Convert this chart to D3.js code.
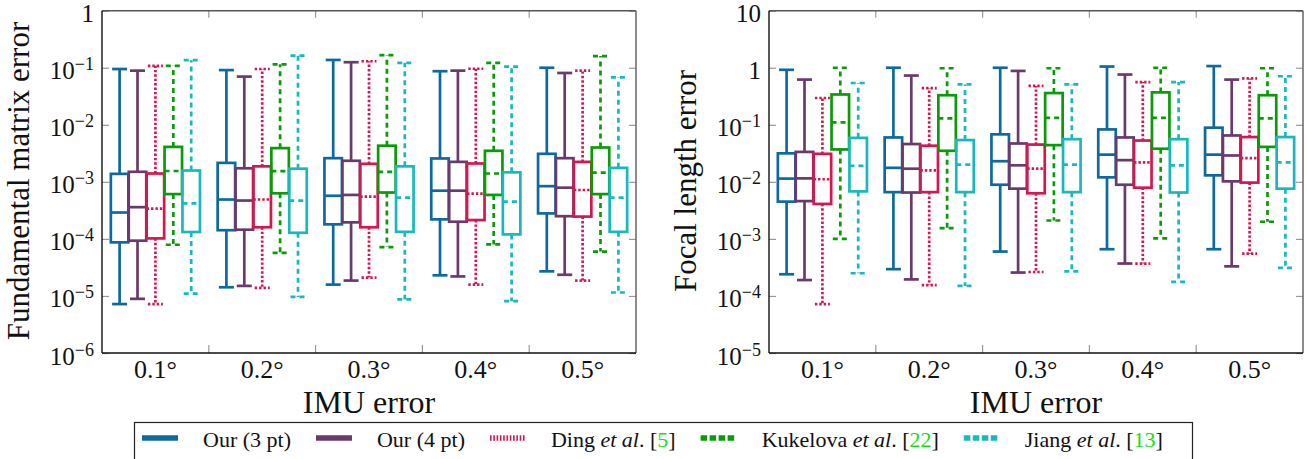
<!doctype html>
<html lang="en">
<head>
<meta charset="UTF-8">
<title>IMU error box plots</title>
<script src="https://d3js.org/d3.v7.min.js"></script>
<style>
  body { margin: 0; background: #fff; }
</style>
</head>
<body>
<svg width="1307" height="459" font-family="'Liberation Serif', Tinos, 'Times New Roman', 'DejaVu Serif', serif" fill="#111"></svg>
<script>

// IMU error levels on the x axis (degrees)
const imuErrors = ["0.1", "0.2", "0.3", "0.4", "0.5"];

// methods, in the order the boxes sit inside each group
const methods = ["our3", "our4", "ding", "kukelova", "jiang"];

// one row per IMU error: [lower whisker, q1, median, q3, upper whisker]
const fundOur3 = [[7.2e-6, 8.7e-5, 2.9e-4, 1.38e-3, 0.095], [1.42e-5, 1.42e-4, 4.9e-4, 2.15e-3, 0.091], [1.58e-5, 1.8e-4, 5.7e-4, 2.6e-3, 0.137], [2.3e-5, 2.2e-4, 7.0e-4, 2.57e-3, 0.087], [2.7e-5, 2.8e-4, 8.4e-4, 3.1e-3, 0.10]];
const fundOur4 = [[8.9e-6, 9.3e-5, 3.6e-4, 1.5e-3, 0.089], [1.5e-5, 1.45e-4, 4.7e-4, 1.73e-3, 0.07], [1.86e-5, 1.95e-4, 5.9e-4, 2.34e-3, 0.125], [2.2e-5, 2.0e-4, 7.0e-4, 2.24e-3, 0.089], [2.35e-5, 2.5e-4, 7.9e-4, 2.6e-3, 0.081]];
const fundDing = [[7.2e-6, 1.02e-4, 3.4e-4, 1.4e-3, 0.108], [1.38e-5, 1.6e-4, 4.9e-4, 1.87e-3, 0.095], [2.1e-5, 1.6e-4, 5.5e-4, 2.07e-3, 0.13], [1.58e-5, 2.14e-4, 6.2e-4, 2.1e-3, 0.096], [1.86e-5, 2.46e-4, 7.2e-4, 2.24e-3, 0.089]];
const fundKukelova = [[7.9e-5, 6.1e-4, 1.55e-3, 4.1e-3, 0.108], [5.7e-5, 6.3e-4, 1.54e-3, 3.9e-3, 0.115], [7.2e-5, 6.5e-4, 1.5e-3, 4.3e-3, 0.166], [8.0e-5, 5.9e-4, 1.4e-3, 3.5e-3, 0.122], [6.0e-5, 6.1e-4, 1.45e-3, 4.0e-3, 0.16]];
const fundJiang = [[1.1e-5, 1.32e-4, 4.2e-4, 1.58e-3, 0.136], [9.6e-6, 1.28e-4, 4.7e-4, 1.7e-3, 0.163], [8.7e-6, 1.33e-4, 5.3e-4, 1.87e-3, 0.122], [8.1e-6, 1.2e-4, 4.5e-4, 1.47e-3, 0.105], [1.15e-5, 1.33e-4, 5.3e-4, 1.76e-3, 0.068]];

const focalOur3 = [[2.4e-4, 4.5e-3, 0.0114, 0.0316, 0.92], [2.95e-4, 6.6e-3, 0.0176, 0.06, 1.0], [6.0e-4, 8.9e-3, 0.023, 0.068, 1.0], [6.6e-4, 0.012, 0.030, 0.083, 1.05], [6.6e-4, 0.013, 0.030, 0.089, 1.07]];
const focalOur4 = [[1.9e-4, 4.6e-3, 0.0115, 0.0335, 0.62], [1.95e-4, 6.5e-3, 0.017, 0.046, 0.73], [2.57e-4, 7.6e-3, 0.0195, 0.047, 0.88], [3.7e-4, 8.9e-3, 0.024, 0.06, 0.76], [3.3e-4, 0.0102, 0.029, 0.065, 0.62]];
const focalDing = [[7.2e-5, 4.1e-3, 0.0111, 0.031, 0.295], [1.55e-4, 6.6e-3, 0.0159, 0.043, 0.44], [2.63e-4, 6.3e-3, 0.017, 0.045, 0.48], [3.7e-4, 7.9e-3, 0.022, 0.053, 0.56], [5.5e-4, 9.7e-3, 0.026, 0.061, 0.65]];
const focalKukelova = [[1.0e-3, 0.037, 0.11, 0.34, 1.0], [1.55e-3, 0.035, 0.13, 0.33, 0.98], [2.1e-3, 0.044, 0.132, 0.36, 0.98], [1.02e-3, 0.038, 0.132, 0.37, 1.0], [2.0e-3, 0.041, 0.13, 0.33, 0.98]];
const focalJiang = [[2.5e-4, 6.8e-3, 0.019, 0.059, 0.54], [1.5e-4, 6.6e-3, 0.02, 0.054, 0.51], [2.7e-4, 6.6e-3, 0.02, 0.056, 0.51], [1.76e-4, 6.5e-3, 0.0195, 0.056, 0.56], [3.1e-4, 7.6e-3, 0.022, 0.061, 0.71]];

// y ticks (powers of ten)
const fundTicks = [1e-6, 1e-5, 1e-4, 1e-3, 1e-2, 1e-1, 1];
const focalTicks = [1e-5, 1e-4, 1e-3, 1e-2, 1e-1, 1, 10];

// legend entries
const legendNames = ["Our (3 pt)", "Our (4 pt)", "Ding", "Kukelova", "Jiang"];
const legendRefs = [null, null, "5", "22", "13"];

const style = {
  our3:     { color: "#0e6a9e", dash: null,      legendDash: null },
  our4:     { color: "#6a3a6c", dash: null,      legendDash: null },
  ding:     { color: "#d6174f", dash: "2.4,2",   legendDash: "1.6,1.7" },
  kukelova: { color: "#0a9a0a", dash: "5,4",     legendDash: "6.5,2.5" },
  jiang:    { color: "#18b9bd", dash: "5,4",     legendDash: "6.5,2.5" }
};

const svg = d3.select("svg");
const plotTop = 10.7, plotBottom = 353;
const lw = 2.7, boxW = 17.5, capW = 15, offset = 17.9;

function drawPanel(x0, x1, domain, ticks, series, yLabel) {
  const g = svg.append("g");
  const x = d3.scaleBand().domain(imuErrors).range([x0, x1]);
  const y = d3.scaleLog().domain(domain).range([plotBottom, plotTop]);

  // decade ticks on both sides
  g.append("g").attr("transform", `translate(${x0},0)`)
      .call(d3.axisLeft(y).tickValues(ticks).tickSize(-7).tickFormat(""))
      .call(a => a.select(".domain").remove())
      .call(a => a.selectAll("line").attr("stroke", "#999").attr("stroke-width", 1.2));
  g.append("g").attr("transform", `translate(${x1},0)`)
      .call(d3.axisRight(y).tickValues(ticks).tickSize(-7).tickFormat(""))
      .call(a => a.select(".domain").remove())
      .call(a => a.selectAll("line").attr("stroke", "#999").attr("stroke-width", 1.2));

  // category boundary ticks, top and bottom
  const bounds = d3.range(1, imuErrors.length).map(i => x0 + i * x.step());
  g.selectAll(".bt").data(bounds).join("line")
      .attr("x1", d => d).attr("x2", d => d).attr("y1", plotTop).attr("y2", plotTop + 7)
      .attr("stroke", "#999").attr("stroke-width", 1.2);
  g.selectAll(".bb").data(bounds).join("line")
      .attr("x1", d => d).attr("x2", d => d).attr("y1", plotBottom).attr("y2", plotBottom - 8)
      .attr("stroke", "#999").attr("stroke-width", 1.2);

  // y tick labels, LaTeX-like 10^n
  ticks.forEach(t => {
    const e = Math.round(Math.log10(t));
    const txt = g.append("text").attr("x", x0 - 8).attr("text-anchor", "end").attr("font-size", 25)
        .attr("y", y(t) + 11.5);
    if (e === 0 || e === 1) {
      txt.text(e === 0 ? "1" : "10");
    } else {
      txt.append("tspan").text("10");
      txt.append("tspan").attr("dy", -9).attr("font-size", 18).text("\u2212" + (-e));
    }
  });

  // x tick labels
  g.selectAll(".xl").data(imuErrors).join("text")
      .attr("x", d => x(d) + x.bandwidth() / 2).attr("y", 378)
      .attr("text-anchor", "middle").attr("font-size", 26)
      .text(d => d + "\u00b0");

  // boxes
  methods.forEach((m, mi) => {
    const s = style[m];
    series[mi].forEach((v, ci) => {
      const cx = x(imuErrors[ci]) + x.bandwidth() / 2 + (mi - 2) * offset;
      const [lo, q1, med, q3, hi] = v;
      const b = g.append("g").attr("stroke", s.color).attr("stroke-width", lw).attr("fill", "none");
      b.append("rect").attr("x", cx - boxW / 2).attr("y", y(q3))
          .attr("width", boxW).attr("height", y(q1) - y(q3));
      const dashed = [
        [cx - boxW / 2, y(med), cx + boxW / 2, y(med)],
        [cx, y(q3), cx, y(hi)],
        [cx, y(q1), cx, y(lo)],
        [cx - capW / 2, y(hi), cx + capW / 2, y(hi)],
        [cx - capW / 2, y(lo), cx + capW / 2, y(lo)]
      ];
      dashed.forEach(([a1, b1, a2, b2]) => {
        b.append("line").attr("x1", a1).attr("y1", b1).attr("x2", a2).attr("y2", b2)
            .attr("stroke-dasharray", s.dash);
      });
    });
  });

  // frame
  g.append("line").attr("x1", x0).attr("x2", x1).attr("y1", plotTop).attr("y2", plotTop).attr("stroke", "#555").attr("stroke-width", 1.5);
  g.append("line").attr("x1", x1).attr("x2", x1).attr("y1", plotTop).attr("y2", plotBottom).attr("stroke", "#666").attr("stroke-width", 1.5);
  g.append("line").attr("x1", x0).attr("x2", x0).attr("y1", plotTop).attr("y2", plotBottom).attr("stroke", "#111").attr("stroke-width", 1.4);
  g.append("line").attr("x1", x0).attr("x2", x1).attr("y1", plotBottom).attr("y2", plotBottom).attr("stroke", "#111").attr("stroke-width", 1.4);

  // axis titles
  g.append("text").attr("x", (x0 + x1) / 2).attr("y", 413)
      .attr("text-anchor", "middle").attr("font-size", 32).text("IMU error");
  g.append("text").attr("transform", `translate(${x0 - 73},181) rotate(-90)`)
      .attr("text-anchor", "middle").attr("font-size", 31).text(yLabel);
}

drawPanel(102, 636, [1e-6, 1], fundTicks,
  [fundOur3, fundOur4, fundDing, fundKukelova, fundJiang], "Fundamental matrix error");
drawPanel(769, 1303, [1e-5, 10], focalTicks,
  [focalOur3, focalOur4, focalDing, focalKukelova, focalJiang], "Focal length error");

// legend
const legend = svg.append("g");
legend.append("rect").attr("x", 134.5).attr("y", 422.5).attr("width", 1058).attr("height", 50)
    .attr("fill", "#fff").attr("stroke", "#222").attr("stroke-width", 1.2);
let lx = 142;
methods.forEach((m, i) => {
  legend.append("line").attr("x1", lx).attr("x2", lx + 36).attr("y1", 438).attr("y2", 438)
      .attr("stroke", style[m].color).attr("stroke-width", 5.5)
      .attr("stroke-dasharray", style[m].legendDash);
  const t = legend.append("text").attr("x", lx + 61).attr("y", 447).attr("font-size", 22);
  if (legendRefs[i] === null) {
    t.text(legendNames[i]);
  } else {
    t.append("tspan").text(legendNames[i] + " ");
    t.append("tspan").attr("font-style", "italic").text("et al");
    t.append("tspan").text(". [");
    t.append("tspan").attr("fill", "#14e014").text(legendRefs[i]);
    t.append("tspan").text("]");
  }
  lx = lx + 61 + t.node().getComputedTextLength() + 25;
});

</script>
</body>
</html>
